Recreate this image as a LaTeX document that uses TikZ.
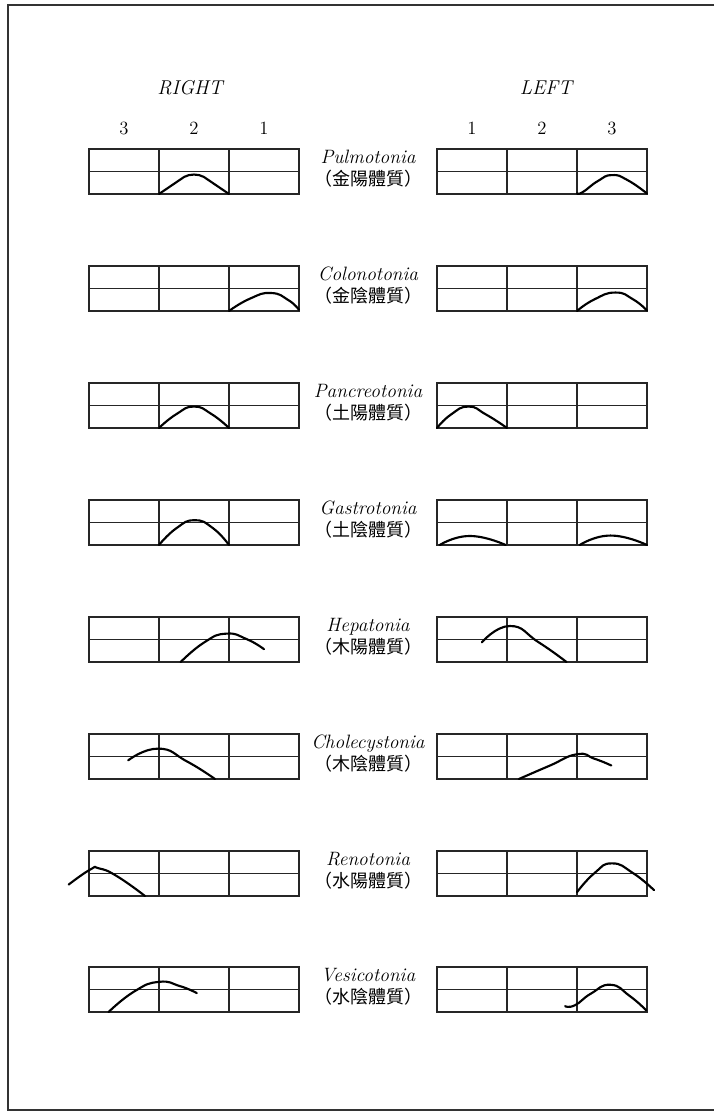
\documentclass[tikz,border=0pt]{standalone}
\usepackage{fontspec}
\newfontfamily\cjkfont{Noto Sans CJK TC}
\usetikzlibrary{positioning}

\begin{document}
\begin{tikzpicture}[
		x=0.75pt,
		y=-0.75pt,
		grid line/.style={line width=0.9pt, black!85},
		pulse line/.style={line width=1.6pt, line cap=round, line join=round},
		right panel/.style={shift={(89,#1)}, x=52.5pt, y=16.875pt},
		left panel/.style={shift={(437,#1)}, x=52.5pt, y=16.875pt},
		side label/.style={font=\fontsize{15}{18}\selectfont\itshape},
		col label/.style={font=\fontsize{14}{16}\selectfont},
		type label/.style={font=\fontsize{14.5}{17}\selectfont\itshape,
			inner sep=0pt, text height=0.75em, text depth=0.25em},
		cjk label/.style={font=\fontsize{13.5}{15}\selectfont\cjkfont, inner sep=0pt}
		]
		\useasboundingbox (0,0) rectangle (714,1112);
		% frame of the page
		\draw[line width=0.8pt, black!80] (714,5) -- (8,5) -- (8,1110) -- (714,1110);

		\node[side label] (right) at (190,88) {RIGHT};
		\node[side label] (left) at (546,88) {LEFT};
		\foreach \n/\x in {3/124,2/194,1/264}
			\node[col label] (r\n) at (\x,128) {\n};
		\foreach \n/\x in {1/472,2/542,3/612}
			\node[col label] (l\n) at (\x,128) {\n};

		% grids and type labels
		\foreach \i/\b/\name/\cjk in {1/194/Pulmotonia/金陽體質,
				2/311/Colonotonia/金陰體質,
				3/428/Pancreotonia/土陽體質,
				4/545/Gastrotonia/土陰體質,
				5/662/Hepatonia/木陽體質,
				6/779/Cholecystonia/木陰體質,
				7/896/Renotonia/水陽體質,
				8/1012/Vesicotonia/水陰體質}{
			\foreach \gx in {89,437}{
				\draw[grid line] (\gx,\b-45) rectangle (\gx+210,\b);
				\draw[grid line] (\gx,\b-22.5) -- (\gx+210,\b-22.5);
				\draw[grid line] (\gx+70,\b-45) -- (\gx+70,\b);
				\draw[grid line] (\gx+140,\b-45) -- (\gx+140,\b);
			}
			\node[type label] (type\i) at (368,\b-34) {\name};
			\node[cjk label, below=2pt of type\i] (cjk\i) {（\cjk）};
		}

		% Pulmotonia
		\begin{scope}[right panel=194]
			\draw[pulse line] (1,0) -- (1.36,0.76) .. controls (1.44,0.9) and (1.56,0.9) .. (1.64,0.76) -- (2,0);
		\end{scope}
		\begin{scope}[left panel=194]
			\draw[pulse line] plot[smooth, tension=0.9] coordinates {(2,0.03) (2.08,0.08) (2.3,0.58) (2.5,0.84) (2.72,0.62) (3,0.02)};
		\end{scope}
		% Colonotonia
		\begin{scope}[right panel=311]
			\draw[pulse line] plot[smooth, tension=0.9] coordinates {(2,0) (2.3,0.55) (2.6,0.8) (2.85,0.48) (3,0.05)};
		\end{scope}
		\begin{scope}[left panel=311]
			\draw[pulse line] plot[smooth, tension=0.9] coordinates {(2,0) (2.25,0.52) (2.55,0.82) (2.8,0.52) (3,0.02)};
		\end{scope}
		% Pancreotonia
		\begin{scope}[right panel=428]
			\draw[pulse line] plot[smooth, tension=0.9] coordinates {(1,0) (1.25,0.62) (1.5,0.95) (1.75,0.62) (2,0)};
		\end{scope}
		\begin{scope}[left panel=428]
			\draw[pulse line] plot[smooth, tension=0.9] coordinates {(0,0) (0.2,0.6) (0.45,0.95) (0.7,0.6) (1,0)};
		\end{scope}
		% Gastrotonia
		\begin{scope}[right panel=545]
			\draw[pulse line] plot[smooth, tension=0.9] coordinates {(1,0) (1.25,0.75) (1.51,1.1) (1.77,0.75) (2,0)};
		\end{scope}
		\begin{scope}[left panel=545]
			\draw[pulse line] plot[smooth, tension=0.9] coordinates {(0.04,0) (0.47,0.4) (0.98,0)};
			\draw[pulse line] plot[smooth, tension=0.9] coordinates {(2.04,0) (2.48,0.42) (3,0)};
		\end{scope}
		% Hepatonia
		\begin{scope}[right panel=662]
			\draw[pulse line] plot[smooth, tension=0.9] coordinates {(1.31,0) (1.65,0.88) (1.96,1.26) (2.25,1.02) (2.5,0.57)};
		\end{scope}
		\begin{scope}[left panel=662]
			\draw[pulse line] plot[smooth, tension=0.9] coordinates {(0.64,0.87) (1.04,1.6) (1.45,0.88) (1.85,0)};
		\end{scope}
		% Cholecystonia
		\begin{scope}[right panel=779]
			\draw[pulse line] plot[smooth, tension=0.9] coordinates {(0.56,0.83) (0.99,1.35) (1.4,0.78) (1.8,0)};
		\end{scope}
		\begin{scope}[left panel=779]
			\draw[pulse line] plot[smooth, tension=0.9] coordinates {(1.17,0) (1.6,0.58) (2.0,1.1) (2.25,0.9) (2.49,0.6)};
		\end{scope}
		% Renotonia
		\begin{scope}[right panel=896]
			\draw[pulse line] plot[smooth, tension=0.9] coordinates {(-0.29,0.51) (0.02,1.18) (0.14,1.23) (0.4,0.88) (0.8,0)};
		\end{scope}
		\begin{scope}[left panel=896]
			\draw[pulse line] plot[smooth, tension=0.9] coordinates {(2.0,0.17) (2.25,1.02) (2.5,1.45) (2.8,1.02) (3.1,0.26)};
		\end{scope}
		% Vesicotonia
		\begin{scope}[right panel=1012]
			\draw[pulse line] plot[smooth, tension=0.9] coordinates {(0.28,0) (0.65,0.92) (1.0,1.34) (1.3,1.15) (1.54,0.84)};
		\end{scope}
		\begin{scope}[left panel=1012]
			\draw[pulse line] plot[smooth, tension=0.9] coordinates {(1.83,0.26) (1.97,0.3) (2.2,0.82) (2.48,1.21) (2.75,0.72) (2.99,0.07)};
		\end{scope}
	\end{tikzpicture}
\end{document}
